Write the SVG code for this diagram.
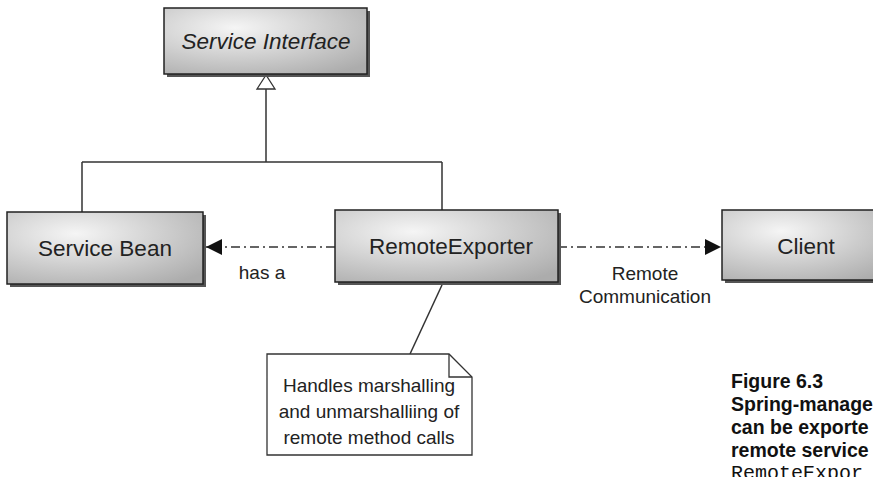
<svg xmlns="http://www.w3.org/2000/svg" width="873" height="477" viewBox="0 0 873 477">
<style>
.box{fill:url(#g);stroke:#222;stroke-width:1.5}
.shadow{fill:#555}
.lbl{font-family:"Liberation Sans",Arial,sans-serif;font-size:22.5px;fill:#222;text-anchor:middle}
.small{font-family:"Liberation Sans",Arial,sans-serif;font-size:19px;fill:#222;text-anchor:middle}
.line{stroke:#333;stroke-width:1.5;fill:none}
.dash{stroke:#333;stroke-width:1.3;fill:none;stroke-dasharray:9 4 2 4}
.cap{font-family:"Liberation Sans",Arial,sans-serif;font-size:19.5px;font-weight:bold;fill:#111}
.mono{font-family:"Liberation Mono","Courier New",monospace;font-size:20px;fill:#111}
</style>
<defs>
<radialGradient id="g" cx="35%" cy="30%" r="85%">
<stop offset="0" stop-color="#f5f5f5"/>
<stop offset="1" stop-color="#acacac"/>
</radialGradient>
<marker id="ah" viewBox="0 0 10 10" refX="10" refY="5" markerWidth="16" markerHeight="16" markerUnits="userSpaceOnUse" orient="auto">
<path d="M0,0 L10,5 L0,10 Z" fill="#111"/>
</marker>
</defs>

<g id="connectors">
<polygon points="266,75 257,89 275,89" fill="#fff" stroke="#333" stroke-width="1.3"/>
<path class="line" d="M266,89 V162 M82,162 H442 M82,162 V212 M442,162 V210"/>
<path class="dash" d="M335,247 H206" marker-end="url(#ah)"/>
<path class="dash" d="M558,247 H721" marker-end="url(#ah)"/>
<path class="line" d="M442,285 L410,354"/>
</g>

<g id="service-interface">
<rect class="shadow" x="167" y="11" width="203" height="66"/>
<rect class="box" x="164" y="8" width="203" height="66"/>
<text class="lbl" x="266" y="49" font-style="italic">Service Interface</text>
</g>

<g id="service-bean">
<rect class="shadow" x="10" y="215" width="196" height="72"/>
<rect class="box" x="7" y="212" width="196" height="72"/>
<text class="lbl" x="105" y="256">Service Bean</text>
</g>

<g id="remote-exporter">
<rect class="shadow" x="338" y="213" width="223" height="72"/>
<rect class="box" x="335" y="210" width="223" height="72"/>
<text class="lbl" x="451" y="254">RemoteExporter</text>
</g>

<g id="client">
<rect class="shadow" x="725" y="213" width="170" height="70"/>
<rect class="box" x="722" y="210" width="170" height="70"/>
<text class="lbl" x="806" y="254">Client</text>
</g>

<g id="labels">
<text class="small" x="262" y="279">has a</text>
<text class="small" x="645" y="280">Remote</text>
<text class="small" x="645" y="303">Communication</text>
</g>

<g id="note">
<path d="M267,354 H449 L472,377 V455 H267 Z" fill="#fff" stroke="#333" stroke-width="1.3"/>
<path d="M449,354 V377 H472" fill="none" stroke="#333" stroke-width="1.3"/>
<text class="small" x="369" y="392">Handles marshalling</text>
<text class="small" x="369" y="418">and unmarshalliing of</text>
<text class="small" x="369" y="444">remote method calls</text>
</g>

<g id="caption">
<text class="cap" x="731" y="388">Figure 6.3</text>
<text class="cap" x="731" y="411">Spring-manage</text>
<text class="cap" x="731" y="434">can be exporte</text>
<text class="cap" x="731" y="457">remote service</text>
<text class="mono" x="731" y="479">RemoteExpor</text>
</g>
</svg>
